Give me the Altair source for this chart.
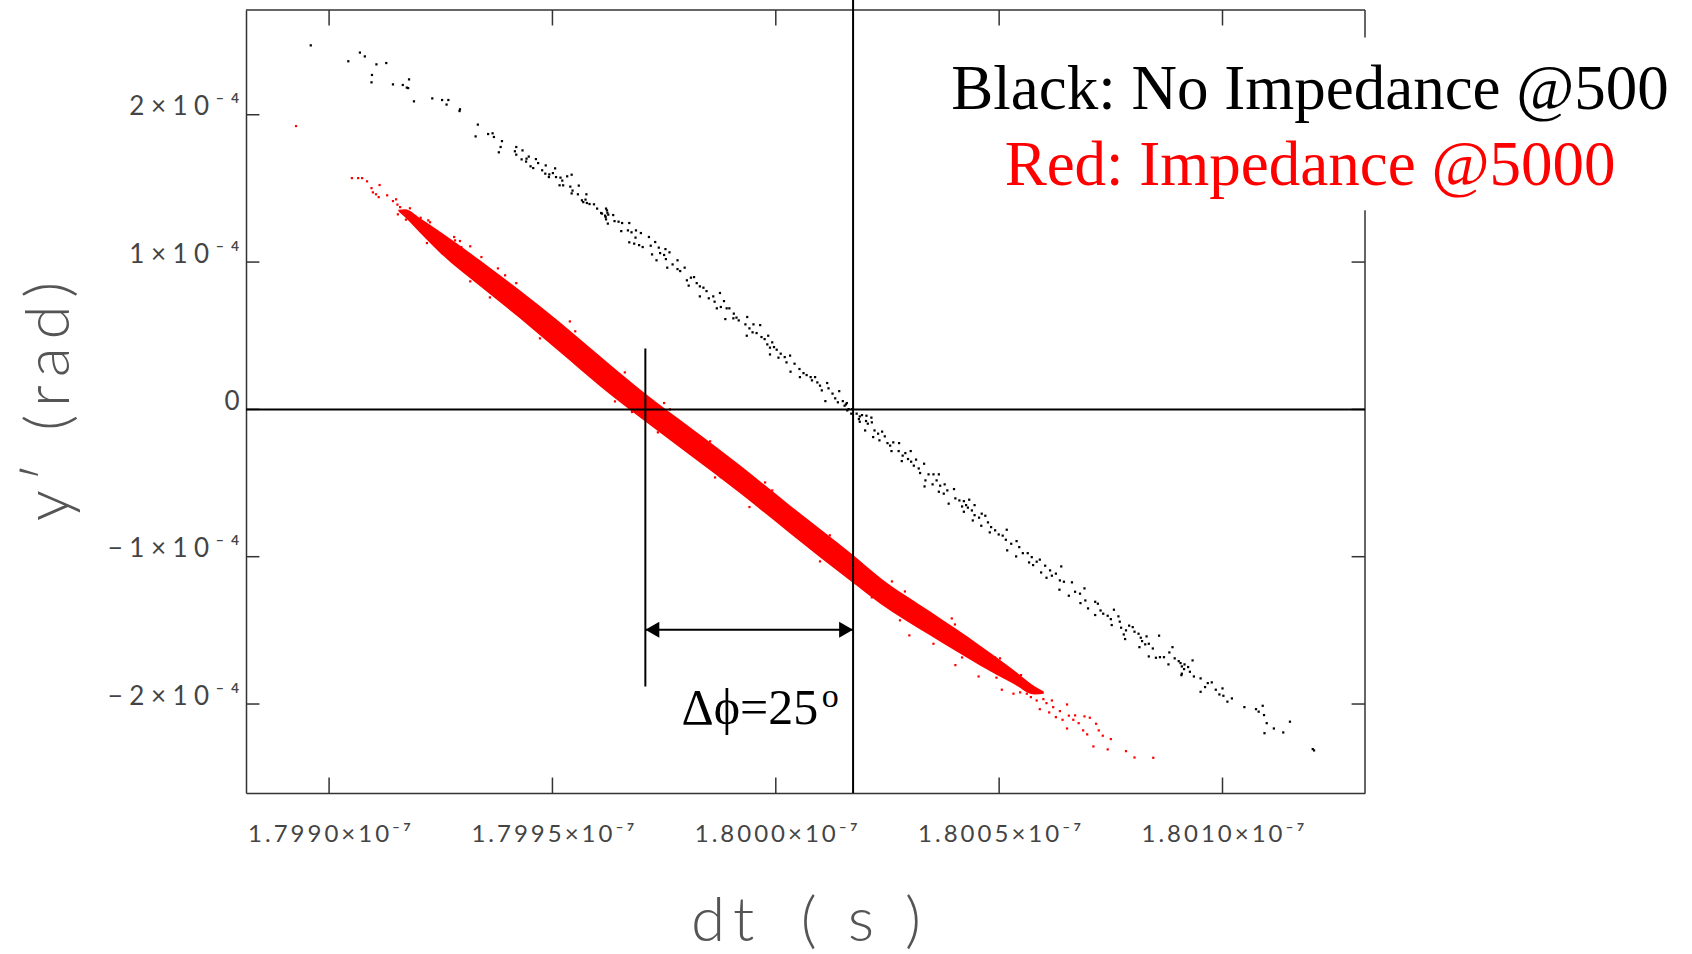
import altair as alt
import pandas as pd

# dt in picoseconds (1.7990e-7 s = 179900 ps), y' in microradians (1e-4 rad = 100 urad)

# No impedance, 500 particles (sparse black cloud)
black_pts = [
    (179895.9, 247.1), (179904.3, 236.3), (179906.9, 242.2), (179908.0, 239.6), (179910.6, 234.2),
    (179912.8, 235.1), (179909.6, 227.0), (179909.5, 222.0), (179914.3, 220.6), (179916.5, 220.2),
    (179917.9, 224.0), (179917.4, 218.4), (179917.7, 218.1), (179919.0, 209.1), (179923.1, 211.1),
    (179925.3, 210.0), (179926.7, 210.0), (179926.3, 206.9), (179929.3, 203.7), (179929.2, 202.5),
    (179933.3, 193.3), (179932.8, 185.3), (179935.6, 186.9), (179936.6, 187.4), (179936.9, 184.9),
    (179938.7, 182.1), (179938.4, 178.1), (179938.0, 174.5), (179941.9, 178.1), (179941.6, 175.2),
    (179941.9, 172.9), (179943.3, 175.8), (179943.1, 169.7), (179944.2, 170.2), (179944.7, 171.6),
    (179944.1, 168.2), (179946.3, 169.9), (179946.8, 167.2), (179945.1, 165.0), (179945.7, 163.8),
    (179947.7, 162.3), (179948.5, 165.6), (179948.4, 160.0), (179949.2, 157.7), (179949.3, 159.5),
    (179950.6, 163.6), (179950.1, 160.4), (179950.8, 157.7), (179951.8, 157.3), (179953.3, 158.2),
    (179954.3, 159.3), (179952.2, 155.3), (179951.6, 152.1), (179952.4, 152.1), (179954.0, 151.2),
    (179955.9, 151.9), (179954.5, 148.5), (179954.3, 146.6), (179955.7, 146.0), (179957.6, 146.0),
    (179956.6, 141.9), (179956.9, 140.7), (179957.4, 142.4), (179957.7, 140.1), (179958.3, 139.4),
    (179959.3, 139.2), (179960.0, 136.3), (179960.9, 133.3), (179962.2, 135.1), (179961.8, 131.5),
    (179962.5, 132.2), (179962.0, 129.0), (179962.4, 126.1), (179962.0, 136.3), (179962.3, 133.5),
    (179961.1, 132.9), (179961.9, 130.6), (179963.6, 131.9), (179963.9, 127.8), (179964.8, 127.4),
    (179965.6, 126.5), (179965.4, 121.0), (179967.2, 126.5), (179966.9, 121.5), (179967.7, 120.2),
    (179967.2, 113.4), (179968.7, 121.5), (179968.6, 116.6), (179969.8, 119.7), (179968.3, 112.5),
    (179969.4, 111.5), (179970.2, 110.2), (179971.6, 117.0), (179972.0, 111.1), (179973.0, 113.6),
    (179972.3, 105.2), (179973.8, 109.8), (179974.1, 106.1), (179975.3, 108.8), (179975.4, 102.0),
    (179976.2, 106.6), (179975.0, 104.8), (179973.3, 101.2), (179975.7, 96.2), (179976.9, 98.4),
    (179978.0, 101.2), (179978.0, 95.2), (179978.6, 93.9), (179979.6, 96.2), (179980.1, 87.6),
    (179981.0, 89.4), (179980.5, 84.0), (179981.7, 89.8), (179982.3, 85.7), (179983.0, 83.5),
    (179983.8, 82.6), (179983.0, 76.7), (179984.5, 80.3), (179985.0, 75.4), (179986.0, 76.7),
    (179986.3, 73.1), (179987.5, 79.0), (179986.8, 68.6), (179987.7, 69.5), (179988.4, 73.5),
    (179989.0, 68.6), (179989.6, 68.6), (179988.7, 61.3), (179990.6, 65.0), (179991.2, 62.3),
    (179991.7, 60.4), (179990.5, 61.8), (179993.6, 62.7), (179993.2, 57.7), (179994.1, 55.0),
    (179995.0, 57.7), (179994.8, 52.3), (179993.5, 50.0), (179996.5, 57.2), (179995.7, 51.8),
    (179996.8, 49.1), (179997.5, 47.7), (179998.3, 50.0), (179998.1, 44.1), (179999.2, 45.5),
    (179998.7, 41.9), (179999.6, 42.3), (180000.2, 40.5), (179998.7, 37.3), (180001.1, 37.8),
    (180000.6, 35.1), (180002.0, 35.5), (180003.2, 36.5), (180002.4, 31.9), (180003.3, 25.6),
    (180004.2, 31.0), (180005.3, 27.4), (180006.2, 24.6), (180005.4, 21.9), (180006.9, 23.3),
    (180007.8, 21.9), (180008.1, 19.7), (180008.8, 21.9), (180009.3, 18.3), (180009.9, 16.1),
    (180010.3, 12.9), (180011.5, 17.9), (180011.8, 14.3), (180011.1, 5.6), (180012.7, 10.7),
    (180013.3, 7.5), (180014.2, 12.4), (180013.9, 4.8), (180015.0, 5.6), (180015.4, 2.5),
    (180015.9, 4.3), (180016.0, -0.7), (180017.1, 0.2), (180016.9, -2.9), (180018.1, -2.9),
    (180018.8, -4.8), (180020.3, -4.3), (180021.4, -5.6), (180015.7, 3.4), (180016.3, 0.2),
    (180018.6, -6.6), (180019.3, -3.9), (180018.8, -8.4), (180020.2, -7.9), (180020.6, -9.7),
    (180021.5, -8.8), (180020.0, -14.3), (180022.1, -14.3), (180021.8, -18.8), (180022.9, -16.5),
    (180023.8, -15.1), (180023.2, -21.0), (180024.4, -18.3), (180025.0, -22.9), (180025.6, -24.6),
    (180026.3, -22.4), (180027.6, -22.9), (180025.9, -28.3), (180027.5, -28.3), (180028.4, -31.4),
    (180029.0, -29.7), (180030.2, -28.3), (180028.2, -35.1), (180029.6, -33.7), (180030.3, -35.5),
    (180031.4, -34.1), (180030.9, -38.2), (180032.0, -40.1), (180032.3, -43.2), (180033.2, -36.9),
    (180033.5, -48.2), (180034.2, -44.1), (180035.3, -44.1), (180036.5, -44.1), (180033.3, -52.3),
    (180035.1, -50.9), (180036.0, -48.2), (180036.8, -51.8), (180037.8, -50.9), (180036.5, -55.9),
    (180037.6, -57.2), (180038.4, -55.0), (180039.9, -54.1), (180038.7, -64.0), (180040.2, -60.4),
    (180041.1, -61.8), (180042.1, -62.3), (180043.3, -61.3), (180041.7, -65.9), (180042.6, -65.0),
    (180043.0, -66.7), (180042.1, -69.5), (180044.5, -65.0), (180043.9, -68.6), (180044.5, -71.8),
    (180044.1, -75.4), (180045.5, -73.5), (180046.1, -70.8), (180046.9, -72.2), (180046.0, -79.0),
    (180047.5, -76.7), (180048.2, -79.9), (180047.9, -83.5), (180049.1, -82.1), (180049.9, -84.9),
    (180050.8, -85.7), (180051.7, -81.7), (180051.5, -88.5), (180052.7, -91.2), (180051.8, -95.7),
    (180053.9, -89.4), (180054.5, -93.5), (180053.8, -99.8), (180055.3, -97.6), (180056.4, -97.6),
    (180057.3, -100.3), (180056.7, -103.9), (180058.4, -103.4), (180059.1, -102.0), (180057.6, -105.7),
    (180059.4, -110.7), (180060.3, -106.1), (180061.4, -109.3), (180060.6, -114.3), (180061.8, -112.9),
    (180062.7, -111.5), (180063.9, -106.6), (180063.6, -116.1), (180064.5, -117.0), (180063.5, -122.4),
    (180066.3, -117.4), (180067.0, -123.8), (180065.6, -126.5), (180068.1, -125.1), (180069.1, -121.5),
    (180068.2, -131.5), (180069.3, -129.7), (180069.9, -135.1), (180071.5, -130.6), (180072.1, -131.9),
    (180072.7, -136.5), (180073.3, -138.7), (180071.5, -139.6), (180074.3, -140.1), (180075.7, -136.0),
    (180075.0, -142.4), (180076.7, -140.5), (180075.2, -146.4), (180077.0, -144.1), (180077.3, -148.2),
    (180078.4, -150.0), (180079.1, -146.8), (180079.9, -147.8), (180077.9, -152.8), (180078.2, -155.9),
    (180080.3, -150.9), (180081.2, -152.3), (180081.7, -155.0), (180083.0, -154.1), (180082.0, -157.3),
    (180082.7, -159.5), (180081.4, -161.4), (180085.8, -153.6), (180083.5, -159.1), (180084.4, -162.3),
    (180083.5, -167.7), (180085.1, -168.6), (180086.0, -168.2), (180086.9, -168.2), (180088.1, -165.0),
    (180088.8, -161.4), (180087.9, -173.1), (180089.3, -169.0), (180090.2, -170.9), (180090.6, -172.2),
    (180091.5, -173.1), (180090.9, -174.5), (180092.3, -174.9), (180093.3, -170.4), (180091.4, -176.3),
    (180092.7, -178.1), (180090.9, -179.4), (180090.8, -180.4), (180093.6, -181.3), (180095.1, -182.6),
    (180095.1, -191.7), (180096.1, -188.5), (180096.7, -185.8), (180097.6, -185.3), (180098.5, -190.3),
    (180100.0, -189.4), (180099.3, -193.5), (180100.2, -194.4), (180101.1, -198.4), (180102.1, -196.2),
    (180104.9, -202.1), (180107.5, -203.5), (180108.1, -205.2), (180109.0, -201.2), (180109.3, -207.5),
    (180109.9, -213.0), (180109.4, -219.8), (180111.5, -216.6), (180113.6, -219.3), (180115.1, -212.0),
    (180120.2, -230.6), (180120.5, -231.5),
]

# Impedance, 5000 particles: dense core as a band (dt, upper y', lower y')
red_band = [
    (179915.5, 135.5, 134.5), (179917.0, 135.8, 130.5), (179920.4, 129.7, 119.8),
    (179924.8, 120.8, 106.4), (179933.8, 101.2, 83.5), (179942.7, 80.8, 61.8),
    (179951.7, 59.1, 38.7), (179960.7, 36.0, 15.6), (179970.7, 10.9, -8.1),
    (179980.8, -12.2, -31.2), (179992.0, -38.0, -57.0), (180003.2, -65.2, -84.2),
    (180017.1, -98.4, -117.4), (180023.3, -114.1, -131.7), (180034.5, -137.1, -153.4),
    (180045.7, -160.2, -173.8), (180053.1, -176.5, -186.0), (180058.0, -188.1, -193.5),
    (180060.0, -191.5, -193.0),
]

# Impedance, 5000 particles: scattered particles around and beyond the core
red_pts = [
    (179892.6, 192.3),
    (179905.1, 157.0), (179906.5, 157.0), (179907.4, 157.0), (179908.5, 154.8), (179911.3, 152.3),
    (179909.5, 150.2), (179909.8, 147.3), (179910.5, 146.0), (179911.1, 144.1), (179913.0, 145.3),
    (179914.3, 141.4), (179915.0, 142.6), (179915.3, 139.0), (179915.9, 137.3), (179916.8, 133.9),
    (179915.4, 132.4), (179918.1, 136.5), (179917.4, 133.3), (179917.2, 128.8), (179918.4, 129.5),
    (179919.3, 131.0), (179919.0, 126.7), (179920.5, 130.1), (179920.1, 123.8), (179921.1, 126.1),
    (179922.2, 128.3), (179922.3, 124.2), (179921.0, 120.6), (179923.1, 122.0), (179921.9, 112.9),
    (179924.0, 118.8), (179924.7, 111.5), (179925.6, 117.0), (179926.3, 113.9), (179928.0, 117.0),
    (179929.3, 114.3), (179927.5, 101.2), (179929.3, 98.4), (179929.6, 110.2), (179932.0, 92.5),
    (179936.8, 79.0), (179941.9, 85.7), (179943.9, 63.1), (179948.0, 52.1), (179934.7, 96.6),
    (179938.3, 89.8), (179934.1, 103.4), (179959.9, 21.9), (179965.0, 8.8), (179967.8, -1.8),
    (179975.0, 4.3), (179978.3, -23.3), (179988.4, -32.4), (179987.7, -46.0), (179999.2, -55.0),
    (179994.1, -66.3), (180006.9, -77.6), (180007.7, -91.2), (180015.1, -95.7), (180011.1, -98.0),
    (180019.3, -108.8), (180026.0, -116.8), (180029.9, -153.4), (180035.3, -159.1), (180040.2, -173.6),
    (180047.0, -166.8), (180051.1, -174.0), (180054.9, -180.4), (180045.4, -181.3), (180049.4, -182.1),
    (180050.6, -190.3), (180053.2, -193.0), (180055.4, -188.5), (180056.2, -193.0), (180057.6, -192.1),
    (180057.1, -195.3), (180058.4, -197.6), (180059.9, -196.7), (180059.1, -203.5), (180060.6, -199.4),
    (180061.8, -197.6), (180061.2, -205.7), (180062.1, -202.1), (180062.7, -208.9), (180063.6, -204.8),
    (180064.2, -210.7), (180065.2, -200.3), (180065.6, -207.9), (180066.6, -210.7), (180067.8, -213.0),
    (180067.0, -207.7), (180069.1, -208.4), (180070.3, -209.3), (180068.8, -217.9), (180069.7, -220.6),
    (180065.2, -216.6), (180071.7, -213.4), (180072.3, -217.9), (180073.2, -221.5), (180075.0, -223.8),
    (180071.1, -228.8), (180074.3, -230.8), (180078.4, -232.0), (180080.3, -236.3), (180084.5, -236.5),
    (179931.6, 110.7), (179937.8, 95.7), (179946.1, 58.4), (179953.9, 59.7), (179956.6, 33.9),
    (179966.2, 25.1), (179973.6, -15.6), (179985.3, -21.7), (179996.9, -67.2), (180012.1, -85.5),
    (180021.5, -127.6), (180028.9, -123.6), (180039.4, -141.9), (180041.7, -168.4), (180049.1, -168.4),
    (179928.2, 114.7), (179931.6, 86.9), (179939.4, 91.0), (179947.2, 48.2), (179955.1, 53.0),
    (179964.0, 5.4), (179976.3, 0.0), (179986.4, -46.2), (179997.6, -49.6), (180009.9, -103.2),
    (180027.8, -143.2), (180040.1, -146.0), (180050.2, -169.0), (180054.7, -192.1), (179922.6, 127.0),
    (179936.0, 76.0),
]

x_ticks = [179900, 179950, 180000, 180050, 180100]
x_tick_labels = ["1.7990×10⁻⁷", "1.7995×10⁻⁷", "1.8000×10⁻⁷", "1.8005×10⁻⁷", "1.8010×10⁻⁷"]
y_ticks = [-200, -100, 0, 100, 200]
y_tick_labels = ["−2×10⁻⁴", "−1×10⁻⁴", "0", "1×10⁻⁴", "2×10⁻⁴"]

legend_lines = ["Black: No Impedance @500", "Red: Impedance @5000"]
legend_colors = ["#000000", "#ff0000"]
legend_x = 180119.6
legend_y = [204.1, 152.1]

crossing_red = 179970.8     # red cloud crosses y' = 0
crossing_black = 180017.3   # black cloud crosses y' = 0
marker_red_span = (41.4, -188.1)
arrow_y = -149.6
phase_text = "Δϕ=25"
phase_pos = (179978.9, -213.4)
degree_pos = (180010.3, -202.1)

X_DOM = [179881.4, 180131.9]
Y_DOM = [-260.4, 271.1]
W, H = 1119, 783
FRAME = "#333333"
AXIS_TEXT = "#444444"
AXIS_TITLE = "#555555"


def spaced(s, gap="\u2009"):
    return gap.join(s)


def label_expr(values, labels):
    expr = "''"
    for v, lab in zip(values, labels):
        expr = f"datum.value == {v} ? '{lab}' : ({expr})"
    return expr


xs = alt.Scale(domain=X_DOM, nice=False, zero=False)
ys = alt.Scale(domain=Y_DOM, nice=False, zero=False)

x_axis = alt.Axis(
    values=x_ticks, labelExpr=label_expr(x_ticks, [spaced(s) for s in x_tick_labels]),
    ticks=False, tickSize=0, grid=False, domainColor=FRAME, domainWidth=1.5,
    labelFont="Lato", labelFontSize=24, labelFontWeight=400, labelColor=AXIS_TEXT,
    labelPadding=29, labelFlush=False, labelOverlap=False,
    title="d\u2009t\u2003(\u2002s\u2002)", titleFont="Lato", titleFontSize=62, titleFontWeight=300,
    titleColor=AXIS_TITLE, titleY=147, titleBaseline="alphabetic",
)
y_axis = alt.Axis(
    values=y_ticks, labelExpr=label_expr(y_ticks, [spaced(s, "\u2005") for s in y_tick_labels]),
    ticks=False, tickSize=0, grid=False, domainColor=FRAME, domainWidth=1.5,
    labelFont="Lato", labelFontSize=26, labelFontWeight=400, labelColor=AXIS_TEXT,
    labelPadding=7, labelBaseline="alphabetic", labelFlush=False, labelOverlap=False,
    title=spaced("y′ (rad)"), titleFont="Lato", titleFontSize=62, titleFontWeight=300,
    titleColor=AXIS_TITLE, titleAngle=270, titleX=-197, titleY=391,
    titleAlign="center", titleBaseline="middle",
)

black_df = pd.DataFrame(black_pts, columns=["dt", "y"])
red_df = pd.DataFrame(red_pts, columns=["dt", "y"])
band_df = pd.DataFrame(red_band, columns=["dt", "hi", "lo"])

one = pd.DataFrame({"k": [0]})


def X(field):
    return alt.X(field, type="quantitative", scale=xs)


def Y(field):
    return alt.Y(field, type="quantitative", scale=ys)


def XD(v):
    return alt.XDatum(v, type="quantitative", scale=xs)


def YD(v):
    return alt.YDatum(v, type="quantitative", scale=ys)


band = alt.Chart(band_df).mark_area(color="#ff0000", interpolate="monotone").encode(
    x=alt.X("dt:Q", scale=xs, axis=x_axis),
    y=alt.Y("hi:Q", scale=ys, axis=y_axis),
    y2="lo:Q",
)
red = alt.Chart(red_df).mark_square(size=5, color="#ff0000", opacity=1).encode(x=X("dt"), y=Y("y"))
black = alt.Chart(black_df).mark_square(size=5, color="#000000", opacity=1).encode(x=X("dt"), y=Y("y"))

# frame: top edge and right edge (right edge interrupted behind the legend)
top_edge = alt.Chart(one).mark_rule(color=FRAME, strokeWidth=1.5).encode(y=YD(Y_DOM[1]))
right_low = alt.Chart(one).mark_rule(color=FRAME, strokeWidth=1.5).encode(
    x=XD(X_DOM[1]), y=YD(Y_DOM[0]), y2=alt.Y2Datum(135.1))
right_high = alt.Chart(one).mark_rule(color=FRAME, strokeWidth=1.5).encode(
    x=XD(X_DOM[1]), y=YD(252.5), y2=alt.Y2Datum(Y_DOM[1]))

# inward tick marks on all four sides
xt = 3.0     # tick length along x (ps)
yt = 10.5    # tick length along y (urad)
left_ticks = pd.DataFrame({"y": y_ticks, "x": X_DOM[0], "x2": X_DOM[0] + xt})
right_ticks = pd.DataFrame({"y": [v for v in y_ticks if v < 150], "x": X_DOM[1] - xt, "x2": X_DOM[1]})
bottom_ticks = pd.DataFrame({"x": x_ticks, "y": Y_DOM[0], "y2": Y_DOM[0] + yt})
top_ticks = pd.DataFrame({"x": x_ticks, "y": Y_DOM[1] - yt, "y2": Y_DOM[1]})

tick_layers = [
    alt.Chart(left_ticks).mark_rule(color=FRAME, strokeWidth=1.5).encode(x=X("x"), x2="x2", y=Y("y")),
    alt.Chart(right_ticks).mark_rule(color=FRAME, strokeWidth=1.5).encode(x=X("x"), x2="x2", y=Y("y")),
    alt.Chart(bottom_ticks).mark_rule(color=FRAME, strokeWidth=1.5).encode(x=X("x"), y=Y("y"), y2="y2"),
    alt.Chart(top_ticks).mark_rule(color=FRAME, strokeWidth=1.5).encode(x=X("x"), y=Y("y"), y2="y2"),
]

zero_line = alt.Chart(one).mark_rule(color="black", strokeWidth=2).encode(y=YD(0))
black_marker = alt.Chart(one).mark_rule(color="black", strokeWidth=2).encode(
    x=XD(crossing_black), y=YD(290), y2=alt.Y2Datum(Y_DOM[0]))
red_marker = alt.Chart(one).mark_rule(color="black", strokeWidth=2).encode(
    x=XD(crossing_red), y=YD(marker_red_span[0]), y2=alt.Y2Datum(marker_red_span[1]))
arrow_shaft = alt.Chart(one).mark_rule(color="black", strokeWidth=2).encode(
    x=XD(crossing_red), x2=alt.X2Datum(crossing_black), y=YD(arrow_y))
head_left = alt.Chart(one).mark_point(
    shape="triangle-left", filled=True, size=256, color="black", opacity=1, xOffset=7
).encode(x=XD(crossing_red), y=YD(arrow_y))
head_right = alt.Chart(one).mark_point(
    shape="triangle-right", filled=True, size=256, color="black", opacity=1, xOffset=-7
).encode(x=XD(crossing_black), y=YD(arrow_y))

phase = alt.Chart(pd.DataFrame({"x": [phase_pos[0]], "y": [phase_pos[1]], "t": [phase_text]})).mark_text(
    font="Liberation Serif", fontSize=50, align="left", baseline="alphabetic", color="black"
).encode(x=X("x"), y=Y("y"), text="t:N")
degree = alt.Chart(pd.DataFrame({"x": [degree_pos[0]], "y": [degree_pos[1]], "t": ["o"]})).mark_text(
    font="Liberation Serif", fontSize=34, align="left", baseline="alphabetic", color="black"
).encode(x=X("x"), y=Y("y"), text="t:N")

legend_df = pd.DataFrame({"x": legend_x, "y": legend_y, "t": legend_lines, "c": legend_colors})
legend = alt.Chart(legend_df).mark_text(
    font="Liberation Serif", fontSize=63, align="center", baseline="alphabetic"
).encode(x=X("x"), y=Y("y"), text="t:N", color=alt.Color("c:N", scale=None))

chart = alt.layer(
    band, red, black, top_edge, right_low, right_high, *tick_layers,
    zero_line, black_marker, red_marker, arrow_shaft, head_left, head_right,
    phase, degree, legend,
).properties(
    width=W, height=H,
    autosize=alt.AutoSizeParams(type="none"),
    padding={"left": 246, "top": 10, "right": 327, "bottom": 161},
    background="white",
).configure_view(stroke=None)

chart.save("out.html", embed_options={"renderer": "svg", "actions": False})
